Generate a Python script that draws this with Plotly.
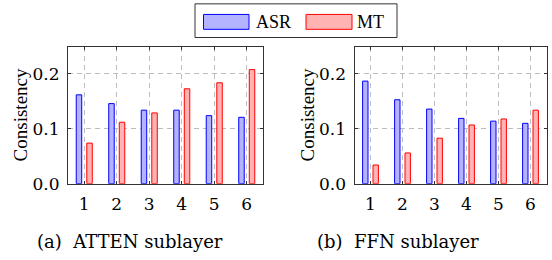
import plotly.graph_objects as go

layers = [1, 2, 3, 4, 5, 6]
tick_labels = ["1", "2", "3", "4", "5", "6"]
atten_asr = [0.162, 0.146, 0.134, 0.134, 0.124, 0.121]
atten_mt = [0.074, 0.112, 0.129, 0.173, 0.184, 0.208]
ffn_asr = [0.187, 0.153, 0.136, 0.119, 0.114, 0.110]
ffn_mt = [0.034, 0.056, 0.083, 0.107, 0.118, 0.134]
y_ticks = [0.0, 0.1, 0.2]
series_names = ["ASR", "MT"]
captions = ["(a)&nbsp; ATTEN sublayer", "(b)&nbsp; FFN sublayer"]
y_title = "Consistency"

BLUE_FILL = "rgb(179,179,255)"
RED_FILL = "rgb(255,179,179)"
SERIF = "Liberation Serif"
WIDE = "DejaVu Serif"

fig = go.Figure()
for xa, ya, asr, mt in [("x", "y", atten_asr, atten_mt), ("x2", "y2", ffn_asr, ffn_mt)]:
    fig.add_trace(go.Bar(x=layers, y=asr, name=series_names[0], xaxis=xa, yaxis=ya,
                         marker=dict(color=BLUE_FILL, line=dict(color="blue", width=1)),
                         showlegend=False, hoverinfo="skip"))
    fig.add_trace(go.Bar(x=layers, y=mt, name=series_names[1], xaxis=xa, yaxis=ya,
                         marker=dict(color=RED_FILL, line=dict(color="red", width=1)),
                         showlegend=False, hoverinfo="skip"))

W, H = 552, 260
def px(x):
    return x / W
def py(y):
    return 1 - y / H

axis_common = dict(showline=True, linecolor="#333", linewidth=1, mirror="ticks",
                   ticks="inside", ticklen=3, tickcolor="#333",
                   showgrid=True, gridcolor="#bdbdbd", griddash="5px,4px", gridwidth=1,
                   zeroline=False, tickfont=dict(family=WIDE, size=17, color="black"))

fig.update_layout(
    width=W, height=H, margin=dict(l=0, r=0, t=0, b=0),
    plot_bgcolor="white", paper_bgcolor="white",
    barmode="group", bargap=0.35, bargroupgap=0.48,
    xaxis=dict(domain=[px(68), px(263)], range=[0.5, 6.5], tickvals=layers,
               ticktext=tick_labels, anchor="y", ticklabelstandoff=5, **axis_common),
    yaxis=dict(domain=[py(191), py(49)], range=[0, 0.249], tickvals=y_ticks,
               tickformat=".1f", anchor="x", ticklabelstandoff=4, **axis_common),
    xaxis2=dict(domain=[px(354.5), px(546.5)], range=[0.5, 6.5], tickvals=layers,
                ticktext=tick_labels, anchor="y2", ticklabelstandoff=5, **axis_common),
    yaxis2=dict(domain=[py(191), py(49)], range=[0, 0.249], tickvals=y_ticks,
                tickformat=".1f", anchor="x2", ticklabelstandoff=4, **axis_common),
)

shapes = []
annotations = []
# legend box
shapes.append(dict(type="rect", xref="paper", yref="paper", x0=px(195), x1=px(397),
                   y0=py(39), y1=py(4), line=dict(color="#333", width=1), fillcolor="white"))
shapes.append(dict(type="rect", xref="paper", yref="paper", x0=px(203.5), x1=px(249),
                   y0=py(30.5), y1=py(15), line=dict(color="blue", width=1), fillcolor=BLUE_FILL))
shapes.append(dict(type="rect", xref="paper", yref="paper", x0=px(306), x1=px(352),
                   y0=py(30.5), y1=py(15), line=dict(color="red", width=1), fillcolor=RED_FILL))
annotations.append(dict(text=series_names[0], xref="paper", yref="paper", x=px(254), y=py(22.5),
                        xanchor="left", yanchor="middle", showarrow=False,
                        font=dict(family=SERIF, size=18, color="black")))
annotations.append(dict(text=series_names[1], xref="paper", yref="paper", x=px(355), y=py(22.5),
                        xanchor="left", yanchor="middle", showarrow=False,
                        font=dict(family=SERIF, size=18, color="black")))
# captions
annotations.append(dict(text=captions[0], xref="paper", yref="paper", x=px(129.5), y=py(251),
                        xanchor="center", yanchor="middle", showarrow=False,
                        font=dict(family=WIDE, size=18, color="black")))
annotations.append(dict(text=captions[1], xref="paper", yref="paper", x=px(397.5), y=py(251),
                        xanchor="center", yanchor="middle", showarrow=False,
                        font=dict(family=WIDE, size=18, color="black")))
# y axis titles
for xc in (20, 307):
    annotations.append(dict(text=y_title, xref="paper", yref="paper", x=px(xc), y=py(120),
                            xanchor="center", yanchor="middle", showarrow=False, textangle=-90,
                            font=dict(family=SERIF, size=19, color="black")))
fig.update_layout(shapes=shapes, annotations=annotations)

fig.write_html("out.html", config={"displayModeBar": False, "staticPlot": True},
               post_script="document.body.style.margin='0';")
